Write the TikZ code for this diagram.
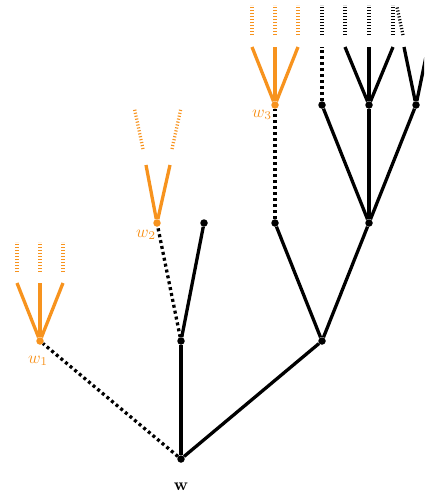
\documentclass[tikz,border=0pt]{standalone}
\definecolor{tor}{RGB}{247,147,30}
\tikzset{
  dot/.style={circle,fill=black,inner sep=0pt,minimum size=7.5pt},
  odot/.style={dot,fill=tor},
  solidedge/.style={line width=3.3pt},
  dotedge/.style={line width=3.3pt,dash pattern=on 3pt off 3pt},
  extedge/.style={line width=3.3pt,dash pattern=on 1.1pt off 1.9pt},
  lab/.style={scale=1.7,inner sep=0pt},
}
\begin{document}
\begin{tikzpicture}[x=1pt,y=-1pt]
\useasboundingbox (0,0) rectangle (424,493);
\clip (0,0) rectangle (424,493);
% main nodes
\node[dot] (w) at (181,459) {};
\node[dot] (A) at (181,341) {};
\node[dot] (B) at (322,341) {};
\node[odot] (w1) at (40,341) {};
\node[odot] (w2) at (157,223) {};
\node[dot] (C) at (204,223) {};
\node[dot] (D) at (275,223) {};
\node[dot] (E) at (369,223) {};
\node[odot] (w3) at (275,105) {};
\node[dot] (F) at (322,105) {};
\node[dot] (G) at (369,105) {};
\node[dot] (H) at (416,105) {};
% labels
\node[lab] (lw) at (181,487) {$\mathbf{w}$};
\node[lab,text=tor] (lw1) at (38,361) {$w_1$};
\node[lab,text=tor] (lw2) at (146,235) {$w_2$};
\node[lab,text=tor] (lw3) at (262,115) {$w_3$};
% stub end points
\coordinate (a1) at (17,283); \coordinate (a2) at (40,283); \coordinate (a3) at (63,283);
\coordinate (a1b) at (17,272); \coordinate (a1t) at (17,242);
\coordinate (a2b) at (40,272); \coordinate (a2t) at (40,242);
\coordinate (a3b) at (63,272); \coordinate (a3t) at (63,242);
\coordinate (b1) at (146,165); \coordinate (b2) at (170,165);
\coordinate (b1b) at (143,149); \coordinate (b1t) at (134.5,109);
\coordinate (b2b) at (172,149); \coordinate (b2t) at (181,108);
\coordinate (c1) at (252,47); \coordinate (c2) at (275,47); \coordinate (c3) at (298,47);
\coordinate (c1b) at (252,35); \coordinate (c1t) at (252,5);
\coordinate (c2b) at (275,35); \coordinate (c2t) at (275,5);
\coordinate (c3b) at (298,35); \coordinate (c3t) at (298,5);
\coordinate (f1) at (322,47);
\coordinate (f1b) at (322,35); \coordinate (f1t) at (322,5);
\coordinate (g1) at (345,47); \coordinate (g2) at (369,47); \coordinate (g3) at (393,47);
\coordinate (g1b) at (345,35); \coordinate (g1t) at (345,5);
\coordinate (g2b) at (369,35); \coordinate (g2t) at (369,5);
\coordinate (g3b) at (393,35); \coordinate (g3t) at (393,5);
\coordinate (h1) at (404,47); \coordinate (h2) at (428,47);
\coordinate (h1b) at (403,35); \coordinate (h1t) at (397,7);
% black tree
\draw[solidedge] (w) -- (A);
\draw[solidedge] (w) -- (B);
\draw[dotedge] (w) -- (w1);
\draw[dotedge] (A) -- (w2);
\draw[solidedge] (A) -- (C);
\draw[solidedge] (B) -- (D);
\draw[solidedge] (B) -- (E);
\draw[dotedge] (D) -- (w3);
\draw[solidedge] (E) -- (F);
\draw[solidedge] (E) -- (G);
\draw[solidedge] (E) -- (H);
\draw[dotedge] (F) -- (f1);
\draw[solidedge] (G) -- (g1);
\draw[solidedge] (G) -- (g2);
\draw[solidedge] (G) -- (g3);
\draw[solidedge] (H) -- (h1);
\draw[solidedge] (H) -- (h2);
\draw[extedge] (f1b) -- (f1t);
\draw[extedge] (g1b) -- (g1t);
\draw[extedge] (g2b) -- (g2t);
\draw[extedge] (g3b) -- (g3t);
\draw[extedge] (h1b) -- (h1t);
% orange subtrees
\begin{scope}[tor]
\draw[solidedge] (w1) -- (a1);
\draw[solidedge] (w1) -- (a2);
\draw[solidedge] (w1) -- (a3);
\draw[extedge] (a1b) -- (a1t);
\draw[extedge] (a2b) -- (a2t);
\draw[extedge] (a3b) -- (a3t);
\draw[solidedge] (w2) -- (b1);
\draw[solidedge] (w2) -- (b2);
\draw[extedge] (b1b) -- (b1t);
\draw[extedge] (b2b) -- (b2t);
\draw[solidedge] (w3) -- (c1);
\draw[solidedge] (w3) -- (c2);
\draw[solidedge] (w3) -- (c3);
\draw[extedge] (c1b) -- (c1t);
\draw[extedge] (c2b) -- (c2t);
\draw[extedge] (c3b) -- (c3t);
\end{scope}
\end{tikzpicture}
\end{document}
